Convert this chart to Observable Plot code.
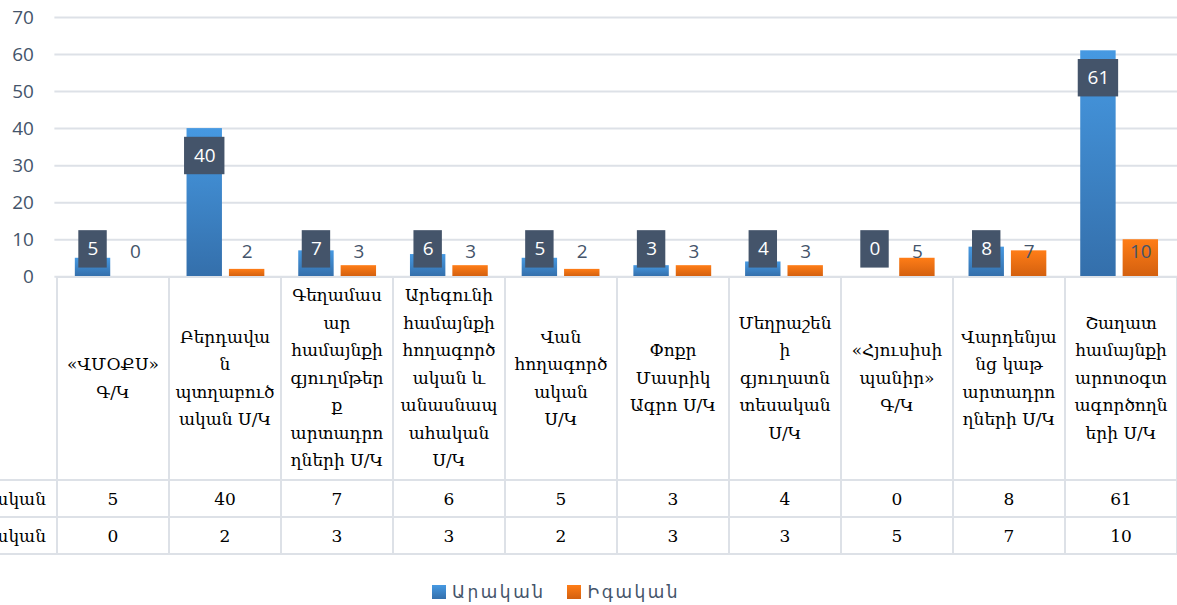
<!DOCTYPE html>
<html>
<head>
<meta charset="utf-8">
<script src="https://cdn.jsdelivr.net/npm/d3@7"></script>
<script src="https://cdn.jsdelivr.net/npm/@observablehq/plot@0.6"></script>
<style>
  html, body { margin: 0; padding: 0; background: #fff; overflow: hidden; width: 1177px; height: 605px; }
  #wrap { position: relative; width: 1177px; height: 605px; overflow: hidden; }
  #chart { position: absolute; left: 0; top: 0; }
  #tbl { position: absolute; border-collapse: collapse; table-layout: fixed; font-family: "DejaVu Serif", serif; color: #000; }
  #tbl td { border: 2px solid #dde1e7; text-align: center; vertical-align: middle; padding: 0; white-space: nowrap; overflow: visible; }
  #tbl td.hdr { font-size: 17px; line-height: 27.5px; }
  #tbl td.num { font-size: 17px; }
  #tbl td.corner { border-top: none; border-left: none; }
  #tbl td.rowlab { border-left: none; text-align: right; padding-right: 10px; font-size: 17px; }
  #legend { position: absolute; top: 582px; left: 432px; font-family: "DejaVu Sans", sans-serif; font-size: 17px; color: #44546A; display: flex; align-items: center; letter-spacing: 2.5px; }
  #legend .key { display: inline-block; width: 14px; height: 14px; margin-right: 6px; }
  #legend .item { display: flex; align-items: center; margin-right: 22px; }
</style>
</head>
<body>
<div id="wrap"></div>
<script>
// ---- data ----
const categories = [
  "«ՎՄՕՔՍ» Գ/Կ",
  "Բերդավան պտղաբուծական Ս/Կ",
  "Գեղամասար համայնքի գյուղմթերք արտադրողների Ս/Կ",
  "Արեգունի համայնքի հողագործական և անասնապահական Ս/Կ",
  "Վան հողագործական Ս/Կ",
  "Փոքր Մասրիկ Ագրո Ս/Կ",
  "Մեղրաշենի գյուղատնտեսական Ս/Կ",
  "«Հյուսիսի պանիր» Գ/Կ",
  "Վարդենյանց կաթ արտադրողների Ս/Կ",
  "Շաղատ համայնքի արոտօգտագործողների Ս/Կ"
];
const tickLabels = [
  ["«ՎՄՕՔՍ»", "Գ/Կ"],
  ["Բերդավա", "ն", "պտղաբուծ", "ական Ս/Կ"],
  ["Գեղամաս", "ար", "համայնքի", "գյուղմթեր", "ք", "արտադրո", "ղների Ս/Կ"],
  ["Արեգունի", "համայնքի", "հողագործ", "ական և", "անասնապ", "ահական", "Ս/Կ"],
  ["Վան", "հողագործ", "ական", "Ս/Կ"],
  ["Փոքր", "Մասրիկ", "Ագրո Ս/Կ"],
  ["Մեղրաշեն", "ի", "գյուղատն", "տեսական", "Ս/Կ"],
  ["«Հյուսիսի", "պանիր»", "Գ/Կ"],
  ["Վարդենյա", "նց կաթ", "արտադրո", "ղների Ս/Կ"],
  ["Շաղատ", "համայնքի", "արոտօգտ", "ագործողն", "երի Ս/Կ"]
];
const series = ["Արական", "Իգական"];
const male = [5, 40, 7, 6, 5, 3, 4, 0, 8, 61];
const female = [0, 2, 3, 3, 2, 3, 3, 5, 7, 10];
const yTicks = [0, 10, 20, 30, 40, 50, 60, 70];
const colors = { label: "#44546A", grid: "#dde1e7" };

// ---- build ----
const maleRows = categories.map((c, i) => ({ category: c, series: series[0], value: male[i] }));
const femaleRows = categories.map((c, i) => ({ category: c, series: series[1], value: female[i] }));
const labelY = d => Math.max(d.value - 7.4, 7.4);
const oneDigit = maleRows.filter(d => String(d.value).length === 1);
const twoDigit = maleRows.filter(d => String(d.value).length > 1);

const chart = Plot.plot({
  width: 1180,
  height: 292,
  marginLeft: 54.5,
  marginRight: 0,
  marginTop: 17,
  marginBottom: 15,
  x: { domain: categories, padding: 0, axis: null },
  y: { domain: [0, 70], ticks: yTicks, tickSize: 0, tickPadding: 21, label: null, grid: false },
  style: { fontFamily: "Open Sans, sans-serif", fontSize: "19px", color: colors.label, background: "transparent", overflow: "visible" },
  marks: [
    Plot.ruleY(yTicks, { stroke: colors.grid, strokeWidth: 2 }),
    Plot.barY(maleRows, { x: "category", y: "value", fill: "url(#gBlue)", insetLeft: 18, insetRight: 58.5, ariaLabel: "male-bars" }),
    Plot.barY(femaleRows, { x: "category", y: "value", fill: "url(#gOrange)", insetLeft: 60.5, insetRight: 16, ariaLabel: "female-bars" }),
    Plot.barY(oneDigit, { x: "category", y1: d => labelY(d) - 5.05, y2: d => labelY(d) + 5.05, fill: colors.label, insetLeft: 21.5, insetRight: 62 }),
    Plot.barY(twoDigit, { x: "category", y1: d => labelY(d) - 5.05, y2: d => labelY(d) + 5.05, fill: colors.label, insetLeft: 15.5, insetRight: 56 }),
    Plot.text(maleRows, { x: "category", y: labelY, text: d => String(d.value), fill: "white", dx: -20.25, fontSize: 19 }),
    Plot.text(femaleRows, { x: "category", y: () => 0, dy: -25, text: d => String(d.value), fill: colors.label, dx: 22.25, fontSize: 19 })
  ]
});
chart.id = "chart";
d3.select(chart).insert("defs", ":first-child").html(`
  <linearGradient id="gBlue" x1="0" y1="0" x2="0" y2="1">
    <stop offset="0" stop-color="#4699e2"/><stop offset="1" stop-color="#346fab"/>
  </linearGradient>
  <linearGradient id="gOrange" x1="0" y1="0" x2="0" y2="1">
    <stop offset="0" stop-color="#ff7d17"/><stop offset="1" stop-color="#d3600f"/>
  </linearGradient>`);
d3.select(chart).selectAll('g[aria-label="male-bars"], g[aria-label="female-bars"]')
  .style("filter", "drop-shadow(0px 1px 1.5px rgba(0,0,0,0.28))");

const wrap = document.getElementById("wrap");
wrap.appendChild(chart);

// ---- data table under the chart (aligned to the x scale) ----
const xs = chart.scale("x");
const ys = chart.scale("y");
const bw = xs.bandwidth;
const x0 = xs.apply(categories[0]);
const rowHeadW = 110;
const tbl = document.createElement("table");
tbl.id = "tbl";
tbl.style.left = (x0 - rowHeadW) + "px";
tbl.style.top = (ys.apply(0) - 1) + "px";
tbl.style.width = (rowHeadW + bw * categories.length) + "px";
let html = `<colgroup><col style="width:${rowHeadW}px">` + categories.map(() => `<col style="width:${bw}px">`).join("") + `</colgroup>`;
html += `<tr style="height:203px"><td class="corner"></td>` + tickLabels.map(l => `<td class="hdr">${l.join("<br>")}</td>`).join("") + `</tr>`;
html += `<tr style="height:37px"><td class="rowlab">${series[0]}</td>` + male.map(v => `<td class="num">${v}</td>`).join("") + `</tr>`;
html += `<tr style="height:37px"><td class="rowlab">${series[1]}</td>` + female.map(v => `<td class="num">${v}</td>`).join("") + `</tr>`;
tbl.innerHTML = html;
wrap.appendChild(tbl);

// ---- legend ----
const legend = document.createElement("div");
legend.id = "legend";
legend.innerHTML = `<span class="item"><span class="key" style="background:linear-gradient(#4699e2,#346fab)"></span>${series[0]}</span>` +
  `<span class="item"><span class="key" style="background:linear-gradient(#ff7d17,#d3600f)"></span>${series[1]}</span>`;
wrap.appendChild(legend);
</script>
</body>
</html>
